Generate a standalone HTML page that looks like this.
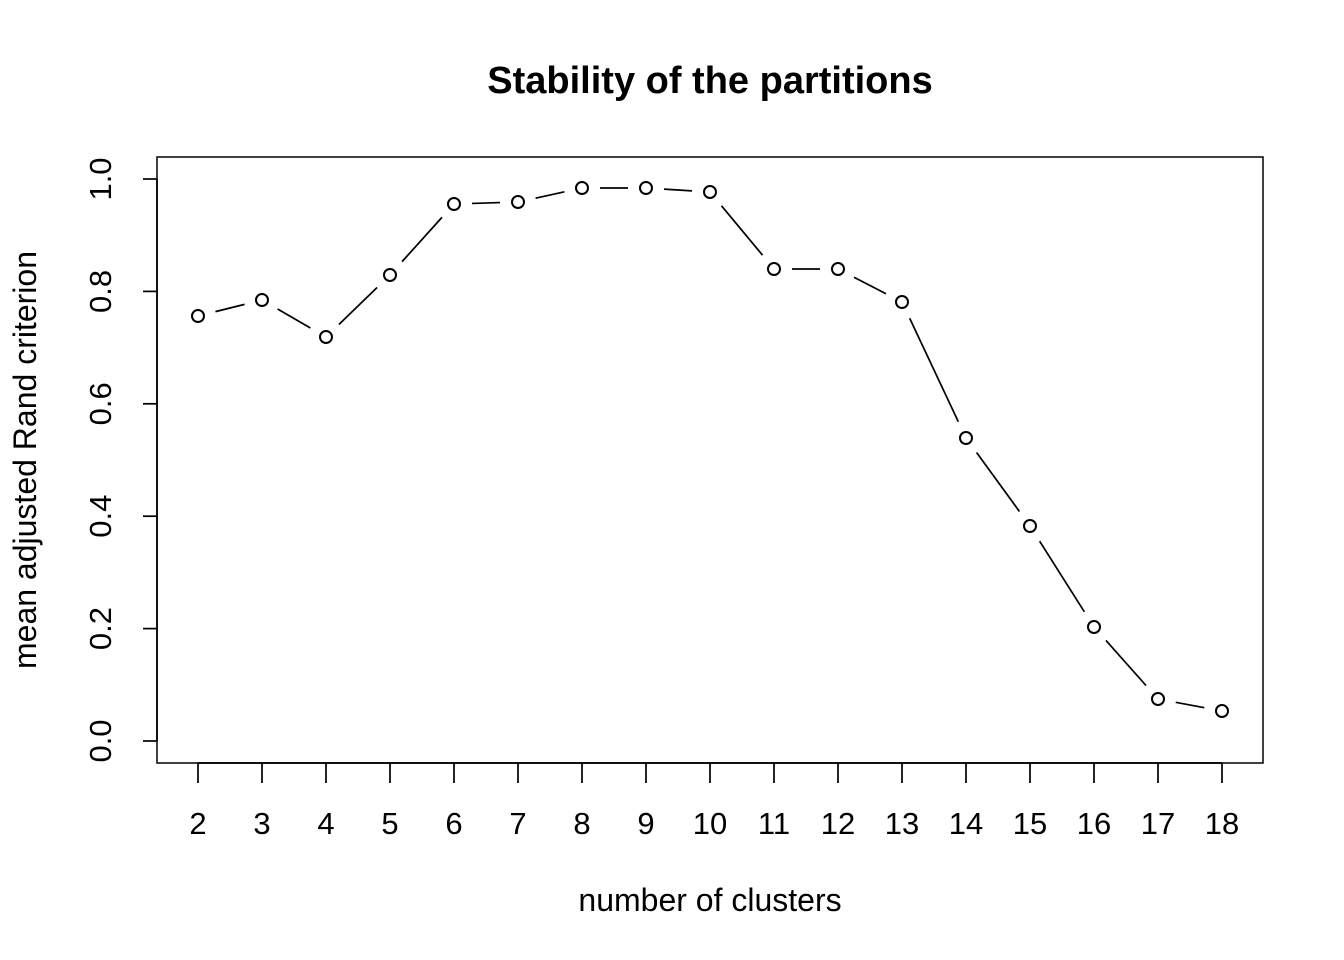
<!DOCTYPE html>
<html><head><meta charset="utf-8"><style>html,body{margin:0;padding:0;background:#fff}svg{display:block}</style></head>
<body>
<svg id="s" width="1344" height="960" xmlns="http://www.w3.org/2000/svg" font-family="Liberation Sans, Arial, sans-serif">
<rect width="1344" height="960" fill="#fff"/>
<text x="710" y="93" font-size="38" font-weight="bold" text-anchor="middle">Stability of the partitions</text>
<rect x="157" y="157" width="1106" height="606" fill="none" stroke="#000" stroke-width="1.5"/>
<text x="710" y="911" font-size="32" text-anchor="middle">number of clusters</text>
<text transform="translate(36,460) rotate(-90)" font-size="32" text-anchor="middle">mean adjusted Rand criterion</text>
<g id="g" stroke="#000" stroke-width="1.7" fill="none"></g>
<g id="t" font-size="31"></g>
</svg>
<script>
var g=document.getElementById('g'),t=document.getElementById('t'),ns='http://www.w3.org/2000/svg';
function el(n,a,p,txt){var e=document.createElementNS(ns,n);for(var k in a)e.setAttribute(k,a[k]);if(txt)e.textContent=txt;(p||g).appendChild(e);return e;}
var ys=[316,300,337,275,204,202,188,188,192,269,269,302,438,526,627,699,711];
function X(i){return 198+64*i;}
el('line',{x1:198,y1:763,x2:1222,y2:763});
for(var i=0;i<17;i++){el('line',{x1:X(i),y1:763,x2:X(i),y2:783});el('text',{x:X(i),y:834,'text-anchor':'middle',stroke:'none',fill:'#000'},t,String(i+2));}
el('line',{x1:157,y1:179,x2:157,y2:741});
for(var j=0;j<=5;j++){var y=741-j*112.4;el('line',{x1:157,y1:y,x2:143,y2:y});
el('text',{transform:'translate(111,'+y+') rotate(-90)','text-anchor':'middle',stroke:'none',fill:'#000'},t,(j*0.2).toFixed(1));}
var gap=18;
for(var i=0;i<16;i++){var x1=X(i),y1=ys[i],x2=X(i+1),y2=ys[i+1];var dx=x2-x1,dy=y2-y1,L=Math.sqrt(dx*dx+dy*dy);
if(L>2*gap){var ux=dx/L,uy=dy/L;el('line',{x1:x1+ux*gap,y1:y1+uy*gap,x2:x2-ux*gap,y2:y2-uy*gap});}}
for(var i=0;i<17;i++)el('circle',{cx:X(i),cy:ys[i],r:6,'stroke-width':2});
</script>
</body></html>
